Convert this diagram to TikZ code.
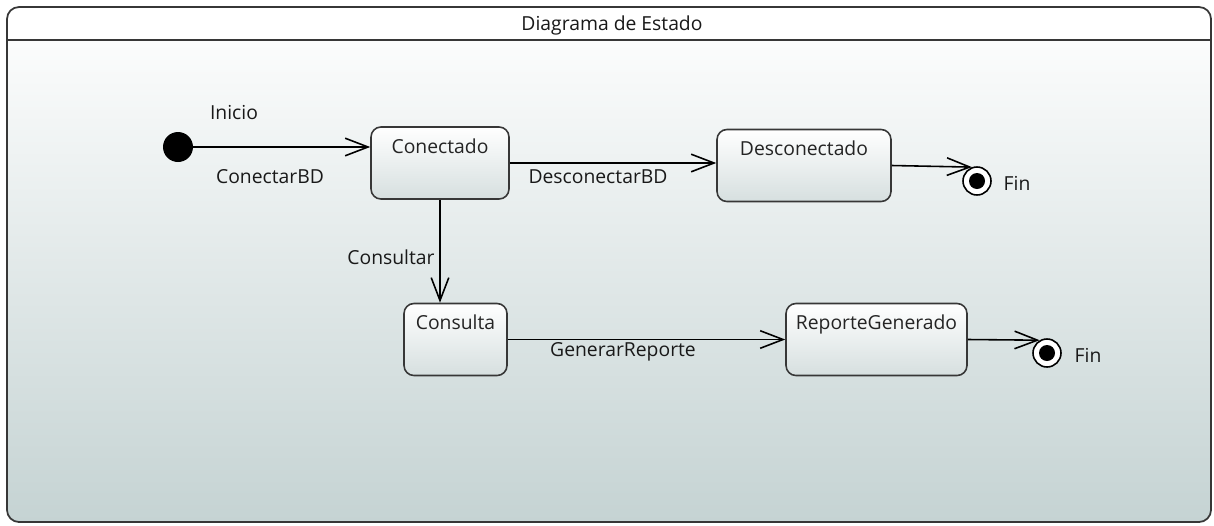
\documentclass[tikz,border=0pt]{standalone}
\usepackage{fontspec}
\setmainfont{Open Sans}
\usetikzlibrary{arrows.meta}
\definecolor{fondo}{RGB}{197,211,211}
\definecolor{cajabaja}{RGB}{214,223,223}
\definecolor{borde}{RGB}{55,55,55}
\definecolor{texto}{RGB}{25,25,25}
\tikzset{
  estado/.style={draw=borde, line width=0.9pt, rounded corners=0.2cm,
    top color=white, bottom color=cajabaja, text=texto!95,
    inner sep=4pt, text height=11pt, text depth=22pt, align=center},
  trans/.style={draw=black, line width=0.9pt,
    -{Straight Barb[length=13pt,width=10pt,line width=0.9pt]}},
  etiqueta/.style={text=texto},
  final/.style={circle, draw=black, line width=0.9pt, fill=white,
    minimum size=0.56cm, inner sep=0pt}
}
\begin{document}
\begin{tikzpicture}[x=0.02cm,y=-0.02cm,font=\fontsize{11}{13}\selectfont]
\useasboundingbox (0,0) rectangle (1214,525);
% marco
\shade[top color=white, bottom color=fondo, rounded corners=0.24cm] (7,7) rectangle (1211,522);
\begin{scope}
  \clip[rounded corners=0.24cm] (7,7) rectangle (1211,522);
  \fill[white] (7,7) rectangle (1211,40);
\end{scope}
\draw[borde, line width=1pt, rounded corners=0.24cm] (7,7) rectangle (1211,522);
\draw[borde, line width=0.8pt] (7,40) -- (1211,40);
\node[etiqueta] (titulo) at (612,25) {Diagrama de Estado};

% estados
\fill[black] (178,147) circle (0.3cm);
\coordinate (inicio) at (178,147);
\node[estado, minimum width=2.76cm] (con) at (440,163) {Conectado};
\node[estado, minimum width=3.48cm] (desc) at (804,165.5) {Desconectado};
\node[estado, minimum width=2.06cm] (cons) at (455.5,339.5) {Consulta};
\node[estado, minimum width=3.62cm] (rep) at (876.5,339.5) {ReporteGenerado};
\node[final] (fin1) at (977,181) {};
\fill[black] (fin1) circle (0.16cm);
\node[final] (fin2) at (1047,353) {};
\fill[black] (fin2) circle (0.16cm);

% transiciones
\draw[trans] (inicio) -- (inicio -| con.west);
\draw[trans] (con.east) -- (con.east -| desc.west);
\draw[trans] (con.south) -- (con.south |- cons.north);
\draw[trans] (cons.east) -- (rep.west);
\draw[trans] (desc.east) -- (fin1.110);
\draw[trans] (rep.east) -- (fin2.120);

% etiquetas
\node[etiqueta] (linicio) at (234,112) {Inicio};
\node[etiqueta] (lconectar) at (270,177) {ConectarBD};
\node[etiqueta] (ldesconectar) at (598,177) {DesconectarBD};
\node[etiqueta] (lconsultar) at (391,257) {Consultar};
\node[etiqueta] (lgenerar) at (623,352) {GenerarReporte};
\node[etiqueta] (lfin1) at (1017,183) {Fin};
\node[etiqueta] (lfin2) at (1088,355) {Fin};
\end{tikzpicture}
\end{document}
